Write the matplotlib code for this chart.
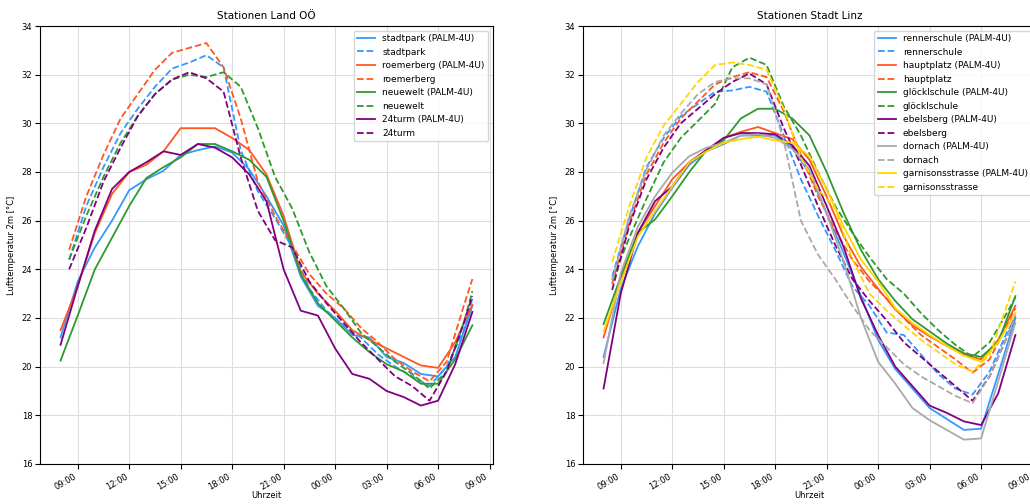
import pandas as pd
import matplotlib
matplotlib.use('Agg')
import matplotlib.pyplot as plt
import matplotlib.dates as mdates

# zeitachsen: modell stuendlich, messung jeweils zur halben stunde
t_model = pd.date_range('2022-07-20 08:00', '2022-07-21 08:00', freq='h')
t_obs = pd.date_range('2022-07-20 08:30', '2022-07-21 07:30', freq='h').append(
    pd.DatetimeIndex(['2022-07-21 08:00']))

# --- Stationen Land OOe ---
stadtpark_palm = [21.2, 23.5, 24.9, 26.0, 27.25, 27.7, 28.05, 28.7, 28.9, 29.05, 28.8, 28.1, 27.0,
                  25.8, 23.7, 22.5, 22.0, 21.3, 21.2, 20.4, 20.15, 19.7, 19.6, 20.4, 22.5]
stadtpark_obs = [24.4, 26.6, 28.2, 29.6, 30.6, 31.5, 32.25, 32.5, 32.8, 32.3, 28.9, 27.2, 26.1,
                 24.9, 23.2, 22.3, 21.7, 21.2, 20.5, 20.0, 19.6, 19.2, 20.0, 21.5, 22.8]
roemerberg_palm = [21.5, 23.3, 25.5, 27.1, 28.0, 28.3, 28.85, 29.8, 29.8, 29.8, 29.4, 28.9, 27.9,
                   26.2, 23.9, 23.0, 22.3, 21.5, 21.1, 20.75, 20.4, 20.05, 19.95, 21.0, 22.55]
roemerberg_obs = [24.8, 27.0, 28.7, 30.2, 31.2, 32.2, 32.9, 33.1, 33.3, 32.3, 30.2, 27.6, 26.2,
                  25.0, 23.8, 23.0, 22.4, 21.6, 21.0, 20.3, 19.8, 19.4, 20.2, 22.5, 23.6]
neuewelt_palm = [20.25, 22.1, 24.0, 25.3, 26.6, 27.75, 28.2, 28.6, 29.15, 29.15, 28.85, 28.5, 27.8,
                 26.0, 23.8, 22.6, 21.9, 21.2, 20.6, 20.1, 19.8, 19.3, 19.3, 20.3, 21.7]
neuewelt_obs = [24.4, 26.2, 27.8, 29.2, 30.3, 31.2, 31.8, 32.0, 31.9, 32.1, 31.5, 29.8, 27.8,
                26.5, 24.7, 23.3, 22.4, 21.4, 20.8, 20.2, 19.7, 19.1, 19.8, 21.8, 23.1]
turm24_palm = [20.9, 23.3, 25.6, 27.3, 28.0, 28.4, 28.85, 28.7, 29.15, 29.0, 28.6, 27.9, 26.8,
               24.0, 22.3, 22.1, 20.75, 19.7, 19.5, 19.0, 18.75, 18.4, 18.6, 20.1, 22.25]
turm24_obs = [24.0, 25.7, 27.6, 29.0, 30.3, 31.2, 31.8, 32.1, 31.85, 31.3, 28.6, 26.4, 25.2,
              24.9, 23.5, 22.6, 21.8, 21.0, 20.3, 19.6, 19.2, 18.6, 19.8, 21.8, 22.9]

# --- Stationen Stadt Linz ---
rennerschule_palm = [20.4, 23.2, 24.95, 26.3, 27.35, 28.3, 28.85, 29.15, 29.5, 29.5, 29.5, 29.0, 27.95,
                     26.3, 24.65, 22.9, 21.1, 19.9, 19.1, 18.3, 17.85, 17.4, 17.45, 19.7, 22.0]
rennerschule_obs = [23.7, 26.1, 28.2, 29.4, 30.3, 30.8, 31.3, 31.35, 31.5, 31.3, 29.5, 27.7, 26.2,
                    24.8, 23.3, 22.5, 21.4, 21.3, 20.5, 19.7, 19.1, 18.85, 19.8, 21.4, 22.0]
hauptplatz_palm = [21.2, 23.6, 25.5, 26.6, 27.7, 28.4, 28.9, 29.4, 29.65, 29.85, 29.6, 29.35, 28.5,
                   27.0, 25.35, 24.1, 23.2, 22.35, 21.7, 21.25, 20.85, 20.5, 20.3, 21.1, 22.5]
hauptplatz_obs = [23.4, 25.9, 27.9, 29.2, 30.2, 30.9, 31.6, 31.9, 32.1, 31.9, 30.5, 28.7, 27.0,
                  25.6, 24.4, 23.5, 22.8, 22.0, 21.3, 20.8, 20.3, 19.75, 20.3, 21.7, 22.4]
gloecklschule_palm = [21.75, 23.7, 25.5, 26.05, 27.0, 28.0, 28.9, 29.3, 30.2, 30.6, 30.6, 30.2, 29.5,
                      28.0, 26.3, 24.8, 23.6, 22.7, 21.95, 21.45, 20.95, 20.55, 20.4, 21.0, 22.9]
gloecklschule_obs = [23.55, 25.3, 26.9, 28.4, 29.4, 30.1, 30.8, 32.3, 32.7, 32.4, 30.7, 29.5, 28.0,
                     26.6, 25.5, 24.5, 23.6, 23.0, 22.2, 21.5, 20.9, 20.4, 21.0, 22.2, 22.85]
ebelsberg_palm = [19.1, 23.0, 25.5, 26.8, 27.4, 28.4, 28.9, 29.4, 29.6, 29.6, 29.55, 29.1, 28.25,
                  26.6, 24.9, 22.8, 21.3, 20.0, 19.2, 18.4, 18.1, 17.75, 17.6, 18.9, 21.3]
ebelsberg_obs = [23.15, 25.8, 27.7, 29.0, 30.0, 30.6, 31.2, 31.7, 32.05, 31.6, 29.8, 28.3, 26.6,
                 25.0, 23.6, 22.7, 21.9, 21.0, 20.4, 19.8, 19.2, 18.6, 19.6, 21.2, 22.1]
dornach_palm = [20.15, 23.85, 25.75, 27.0, 27.97, 28.65, 29.0, 29.2, 29.5, 29.55, 29.4, 28.95, 28.1,
                26.3, 24.3, 22.0, 20.2, 19.3, 18.3, 17.8, 17.4, 17.0, 17.05, 19.4, 21.8]
dornach_obs = [23.55, 26.2, 28.1, 29.5, 30.4, 31.2, 31.7, 31.85, 31.85, 31.6, 29.3, 26.0, 24.6,
               23.6, 22.5, 21.5, 20.8, 20.1, 19.6, 19.2, 18.8, 18.5, 19.6, 21.2, 22.1]
garnison_palm = [21.45, 23.45, 25.35, 26.4, 27.4, 28.4, 28.85, 29.2, 29.35, 29.45, 29.3, 29.2, 28.65,
                 27.3, 25.75, 24.4, 23.5, 22.4, 21.8, 21.3, 20.85, 20.45, 20.2, 21.0, 22.2]
garnison_obs = [24.3, 26.6, 28.6, 29.9, 30.8, 31.7, 32.4, 32.5, 32.4, 32.2, 30.6, 28.6, 27.3,
                26.5, 24.4, 23.0, 22.3, 21.7, 21.1, 20.6, 20.1, 19.8, 20.5, 22.5, 23.5]

land = [('stadtpark', '#3399ff', stadtpark_palm, stadtpark_obs),
        ('roemerberg', '#ff5722', roemerberg_palm, roemerberg_obs),
        ('neuewelt', '#2e9a2e', neuewelt_palm, neuewelt_obs),
        ('24turm', 'purple', turm24_palm, turm24_obs)]
stadt = [('rennerschule', '#3399ff', rennerschule_palm, rennerschule_obs),
         ('hauptplatz', '#ff5722', hauptplatz_palm, hauptplatz_obs),
         ('glöcklschule', '#2e9a2e', gloecklschule_palm, gloecklschule_obs),
         ('ebelsberg', 'purple', ebelsberg_palm, ebelsberg_obs),
         ('dornach', 'darkgray', dornach_palm, dornach_obs),
         ('garnisonsstrasse', 'gold', garnison_palm, garnison_obs)]

plt.rcParams['font.size'] = 7

fig = plt.figure(figsize=(10.3, 5.04), dpi=100)
ax1 = fig.add_axes([0.0388, 0.0794, 0.4398, 0.869])
ax2 = fig.add_axes([0.566, 0.0794, 0.4398, 0.869])


def draw(ax, stations, title):
    for name, col, palm, obs in stations:
        ax.plot(t_model, palm, color=col, lw=1.3, label=name + ' (PALM-4U)')
        ax.plot(t_obs, obs, color=col, lw=1.3, ls='--', label=name)
    ax.set_ylim(16, 34)
    ax.set_title(title, fontsize=7.5, pad=5)
    ax.set_xlabel('Uhrzeit', fontsize=6, labelpad=0)
    ax.set_ylabel('Lufttemperatur 2m [°C]', fontsize=6)
    ax.xaxis.set_major_locator(mdates.HourLocator(byhour=range(0, 24, 3)))
    ax.xaxis.set_major_formatter(mdates.DateFormatter('%H:%M'))
    for tick in ax.get_xticklabels():
        tick.set_rotation(30)
        tick.set_horizontalalignment('right')
    ax.tick_params(labelsize=6, pad=2)
    ax.grid(True, color='#dddddd', lw=0.8)
    ax.legend(loc='upper right', fontsize=6.5)


draw(ax1, land, 'Stationen Land OÖ')
draw(ax2, stadt, 'Stationen Stadt Linz')

fig.savefig('out.png', dpi=100)
